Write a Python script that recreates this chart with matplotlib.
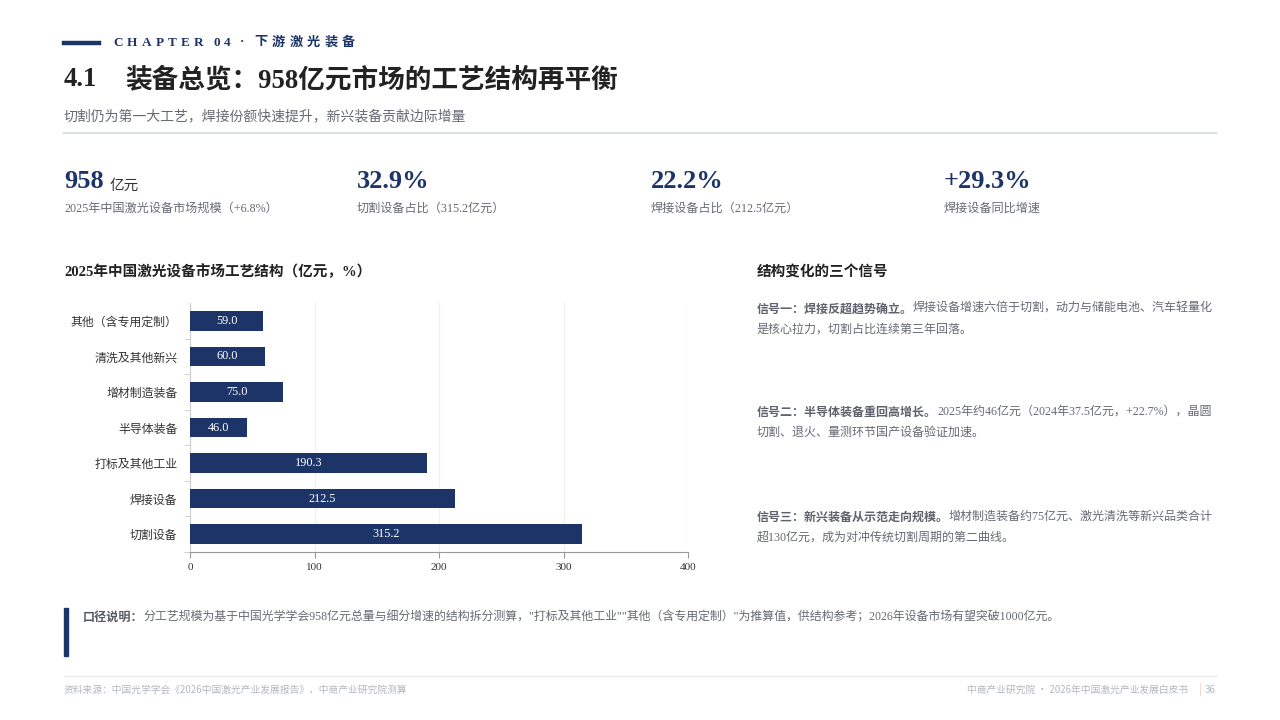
import matplotlib
matplotlib.use("Agg")
import matplotlib.pyplot as plt
from matplotlib.patches import Rectangle
from matplotlib.lines import Line2D

# ---------------- data ----------------
categories = ["切割设备", "焊接设备", "打标及其他工业", "半导体装备", "增材制造装备", "清洗及其他新兴", "其他（含专用定制）"]
values = [315.2, 212.5, 190.3, 46.0, 75.0, 60.0, 59.0]
x_ticks = [0, 100, 200, 300, 400]

kpi_values = ["958", "32.9%", "22.2%", "+29.3%"]
kpi_units = ["亿元", "", "", ""]
kpi_labels = ["2025年中国激光设备市场规模（+6.8%）", "切割设备占比（315.2亿元）",
              "焊接设备占比（212.5亿元）", "焊接设备同比增速"]

signal_heads = ["信号一：焊接反超趋势确立。", "信号二：半导体装备重回高增长。", "信号三：新兴装备从示范走向规模。"]
signal_line1 = ["焊接设备增速六倍于切割，动力与储能电池、汽车轻量化",
                "2025年约46亿元（2024年37.5亿元，+22.7%），晶圆",
                "增材制造装备约75亿元、激光清洗等新兴品类合计"]
signal_line2 = ["是核心拉力，切割占比连续第三年回落。",
                "切割、退火、量测环节国产设备验证加速。",
                "超130亿元，成为对冲传统切割周期的第二曲线。"]

chapter_text = "CHAPTER 04 · 下游激光装备"
title_num = "4.1"
title_text = "装备总览：958亿元市场的工艺结构再平衡"
subtitle_text = "切割仍为第一大工艺，焊接份额快速提升，新兴装备贡献边际增量"
chart_title = "2025年中国激光设备市场工艺结构（亿元，%）"
right_title = "结构变化的三个信号"
note_head = "口径说明："
note_body = "分工艺规模为基于中国光学学会958亿元总量与细分增速的结构拆分测算，\"打标及其他工业\"\"其他（含专用定制）\"为推算值，供结构参考；2026年设备市场有望突破1000亿元。"
footer_left = "资料来源：中国光学学会《2026中国激光产业发展报告》，中商产业研究院测算"
footer_right = "中商产业研究院 · 2026年中国激光产业发展白皮书"
page_no = "36"

# ---------------- style ----------------
NAVY = "#1c3468"
DARK = "#222222"
GRAY = "#666a72"
LIGHT = "#b3b7bf"
SERIF = ["Liberation Serif", "Noto Sans CJK SC"]
SANS = ["Noto Sans CJK SC", "DejaVu Sans"]

W, H = 1280, 720
fig = plt.figure(figsize=(12.8, 7.2), dpi=100)
fig.patch.set_facecolor("white")
renderer = fig.canvas.get_renderer()


def T(x, y, s, **kw):
    kw.setdefault("va", "center")
    return fig.text(x / W, 1 - y / H, s, **kw)


def runs(x, y, parts):
    cx = x
    for s, kw in parts:
        t = T(cx, y, s, **kw)
        bb = t.get_window_extent(renderer)
        cx += bb.width
    return cx


def spaced(x, y, s, spacing, **kw):
    cx = x
    for ch in s:
        if ch == " ":
            cx += spacing * 1.2
            continue
        t = T(cx, y, ch, **kw)
        cx += t.get_window_extent(renderer).width + spacing
    return cx


def hline(x0, x1, y, color, lw):
    fig.add_artist(Line2D([x0 / W, x1 / W], [1 - y / H, 1 - y / H], color=color, lw=lw,
                          transform=fig.transFigure))


# header
hline(64, 99, 42.5, NAVY, 3.2)
spaced(113, 42.5, chapter_text, 4.3, family=SERIF, fontsize=9.5, fontweight="bold", color=NAVY)
T(64, 80, title_num, family=SERIF, fontsize=19.2, fontweight="bold", color=DARK)
T(125, 80, title_text, family=SERIF, fontsize=19.2, fontweight="bold", color=DARK)
T(64, 116, subtitle_text, family=SANS, fontsize=10, color=GRAY)
hline(64, 1216, 133, "#dde1ea", 1.6)

# KPIs
kpi_x = [64, 357, 651, 944]
for i in range(4):
    end = runs(kpi_x[i], 182, [(kpi_values[i], dict(family=SERIF, fontsize=19, fontweight="bold", color=NAVY))])
    if kpi_units[i]:
        T(end + 6, 186, kpi_units[i], family=SANS, fontsize=10.5, color="#333333")
    T(kpi_x[i], 209, kpi_labels[i], family=SERIF, fontsize=8.7, color=GRAY)

# chart
T(64, 272, chart_title, family=SERIF, fontsize=10.5, fontweight="bold", color=DARK)
ax = fig.add_axes([190 / W, 1 - 552 / H, (688 - 190) / W, (552 - 303) / H])
pos = list(range(len(categories)))
ax.barh(pos, values, height=0.55, color=NAVY, zorder=3)
for p, v in zip(pos, values):
    ax.text(v / 2, p, f"{v:.1f}", ha="center", va="center", color="white",
            family=SERIF, fontsize=8.8, zorder=4)
ax.set_xlim(0, 400)
ax.set_ylim(-0.5, len(categories) - 0.5)
ax.set_xticks(x_ticks)
ax.set_xticklabels([str(t) for t in x_ticks], family=SERIF, fontsize=8, color="#333333")
ax.set_yticks(pos)
ax.set_yticklabels(categories, family=SANS, fontsize=8.6, color="#333333")
ax.set_yticks([p + 0.5 for p in pos[:-1]] + [-0.5], minor=True)
ax.tick_params(axis="y", which="major", length=0, pad=9)
ax.tick_params(axis="y", which="minor", length=4, color="#cccccc", direction="out")
ax.tick_params(axis="x", length=4, color="#999999", pad=4)
ax.grid(axis="x", color="#eef0f4", lw=0.9, zorder=0)
for s in ["top", "right"]:
    ax.spines[s].set_visible(False)
ax.spines["left"].set_color("#cccccc")
ax.spines["bottom"].set_color("#999999")
ax.set_facecolor("white")

# right panel
T(757, 272, right_title, family=SANS, fontsize=10.5, fontweight="bold", color=DARK)
sig_y = [309, 412, 517]
for i in range(3):
    runs(757, sig_y[i], [(signal_heads[i], dict(family=SANS, fontsize=8.65, fontweight="bold", color="#5d626c")),
                         (signal_line1[i], dict(family=SERIF, fontsize=8.65, color=GRAY))])
    T(757, sig_y[i] + 21, signal_line2[i], family=SERIF, fontsize=8.65, color=GRAY)

# note
fig.add_artist(Rectangle((64 / W, 1 - 656 / H), 4 / W, 48 / H, color=NAVY, transform=fig.transFigure))
runs(83, 617, [(note_head, dict(family=SANS, fontsize=8.7, fontweight="bold", color="#555a63")),
               (note_body, dict(family=SERIF, fontsize=8.6, color=GRAY))])

# footer
hline(64, 1216, 676, "#e8eaef", 1.0)
T(64, 690, footer_left, family=SANS, fontsize=7, color=LIGHT)
T(1216, 690, page_no, family=SANS, fontsize=7, color=LIGHT, ha="right")
T(1200, 690, "|", family=SANS, fontsize=7, color="#f0c4b8", ha="center")
T(1188, 690, footer_right, family=SANS, fontsize=7, color=LIGHT, ha="right")

fig.savefig("out.png", dpi=100, facecolor="white")
